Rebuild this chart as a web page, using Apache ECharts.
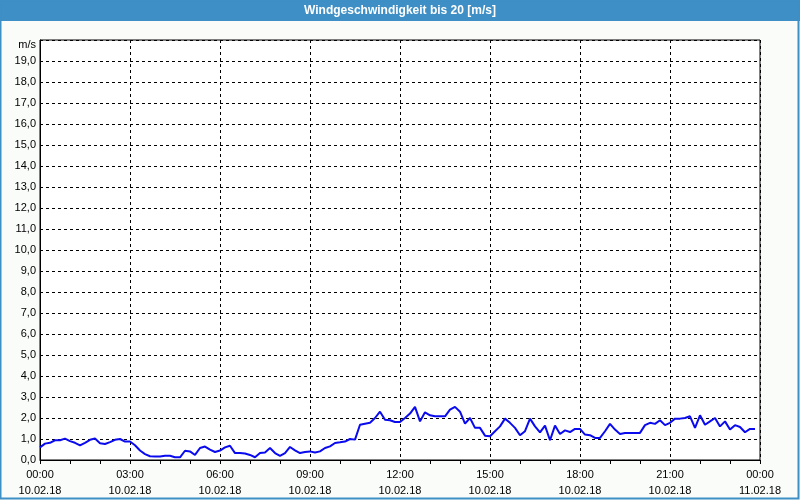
<!DOCTYPE html>
<html>
<head>
<meta charset="utf-8">
<script src="https://cdn.jsdelivr.net/npm/echarts@6/dist/echarts.min.js"></script>
<style>
html,body{margin:0;padding:0;background:#fafcfa;}
#c{width:800px;height:500px;}
</style>
</head>
<body>
<div id="c"></div>
<script>
const titleText = 'Windgeschwindigkeit bis 20 [m/s]';
const unitLabel = 'm/s';
const startDate = '10.02.18';
const endDate = '11.02.18';
const stepMinutes = 10;
const speed = [
  0.6, 0.78, 0.82, 0.94, 0.94, 1.02, 0.9, 0.82, 0.7, 0.82,
  0.96, 1.02, 0.8, 0.76, 0.85, 0.96, 1.0, 0.88, 0.88, 0.7,
  0.45, 0.28, 0.18, 0.17, 0.17, 0.2, 0.2, 0.13, 0.13, 0.44,
  0.41, 0.24, 0.57, 0.64, 0.49, 0.38, 0.45, 0.6, 0.68, 0.33,
  0.33, 0.31, 0.24, 0.13, 0.33, 0.36, 0.57, 0.33, 0.2, 0.33,
  0.62, 0.46, 0.33, 0.38, 0.41, 0.36, 0.41, 0.57, 0.65, 0.81,
  0.84, 0.88, 1.0, 0.97, 1.68, 1.73, 1.77, 2.0, 2.3, 1.92,
  1.89, 1.81, 1.81, 2.0, 2.21, 2.53, 1.84, 2.27, 2.13, 2.08,
  2.08, 2.08, 2.4, 2.53, 2.3, 1.73, 2.0, 1.53, 1.53, 1.16,
  1.13, 1.37, 1.6, 1.97, 1.77, 1.53, 1.18, 1.37, 1.97, 1.6,
  1.32, 1.64, 0.94, 1.64, 1.24, 1.41, 1.33, 1.48, 1.48, 1.21,
  1.18, 1.05, 1.05, 1.37, 1.72, 1.45, 1.24, 1.29, 1.29, 1.29,
  1.29, 1.66, 1.77, 1.72, 1.89, 1.66, 1.77, 1.97, 1.97, 2.0,
  2.08, 1.53, 2.13, 1.68, 1.84, 2.0, 1.6, 1.84, 1.45, 1.66,
  1.57, 1.32, 1.48, 1.48
];
const seriesData = speed.map((v, i) => [i * stepMinutes, v]);

const FONT = "'Liberation Sans', Arial, sans-serif";
const chart = echarts.init(document.getElementById('c'), null, {renderer: 'canvas'});
function pad(n){return (n < 10 ? '0' : '') + n;}
chart.setOption({
  animation: false,
  backgroundColor: '#fafcfa',
  graphic: [
    {type: 'rect', shape: {x: 0, y: 0, width: 800, height: 21}, style: {fill: '#3d8fc5'}, z: 0},
    {type: 'rect', shape: {x: 0.5, y: 0.5, width: 798, height: 498}, style: {fill: null, stroke: '#3d8fc5', lineWidth: 2}, z: 0},
    {type: 'text', x: 400, y: 10.5, style: {text: titleText, fill: '#ffffff', font: "bold 12px 'Liberation Sans Narrow', 'Liberation Sans', sans-serif", align: 'center', verticalAlign: 'middle'}, z: 10}
  ],
  grid: {left: 40, right: 40, top: 40, bottom: 40, show: true, backgroundColor: '#ffffff', borderColor: '#000', borderWidth: 1},
  xAxis: {
    type: 'value', min: 0, max: 1440, interval: 180,
    axisLine: {show: true, onZero: false, lineStyle: {color: '#000', width: 1}},
    axisTick: {show: true, length: 4, lineStyle: {color: '#000'}},
    minorTick: {show: true, splitNumber: 3, length: 4, lineStyle: {color: '#000'}},
    splitLine: {show: true, lineStyle: {color: '#000', type: [3, 3], width: 1}},
    axisLabel: {
      color: '#000', fontFamily: FONT, fontSize: 11, lineHeight: 16, margin: 7,
      formatter: function (v) {
        const h = Math.floor(v / 60) % 24, m = v % 60;
        return pad(h) + ':' + pad(m) + '\n' + (v >= 1440 ? endDate : startDate);
      }
    }
  },
  yAxis: {
    type: 'value', min: 0, max: 20, interval: 1,
    axisLine: {show: true, lineStyle: {color: '#000', width: 1}},
    axisTick: {show: false},
    splitLine: {show: true, lineStyle: {color: '#000', type: [3, 3], width: 1}},
    axisLabel: {
      color: '#000', fontFamily: FONT, fontSize: 11, margin: 4,
      formatter: function (v) {
        if (v === 20) return '{u|' + unitLabel + '}';
        return v.toFixed(1).replace('.', ',');
      },
      rich: {u: {fontFamily: FONT, fontSize: 11, color: '#000', padding: [10, 0, 0, 0]}}
    }
  },
  series: [{
    type: 'line', data: seriesData, showSymbol: false, symbol: 'none',
    lineStyle: {color: '#0a0aef', width: 2}, z: 5
  }]
});
</script>
</body>
</html>
